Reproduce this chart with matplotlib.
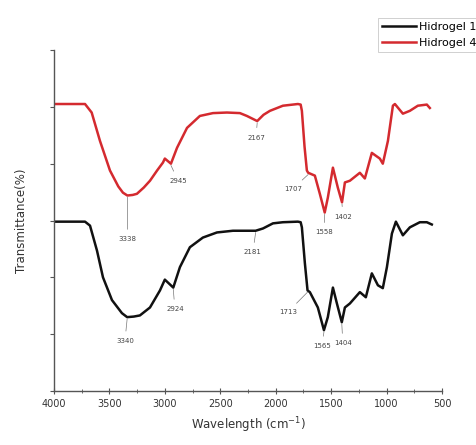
import matplotlib

matplotlib.use("Agg")
import matplotlib.pyplot as plt
from matplotlib.ticker import MultipleLocator

# FTIR spectra, wavenumber (cm-1) vs offset transmittance (arbitrary units)
wn_h4 = [4000, 3720, 3660, 3585, 3495, 3420, 3378, 3338, 3290, 3252, 3190, 3134,
         3070, 3017, 3000, 2945, 2890, 2800, 2684, 2566, 2440, 2323, 2260, 2167,
         2110, 2052, 1935, 1800, 1775, 1764, 1740, 1719, 1707, 1647, 1602, 1558,
         1530, 1484, 1440, 1402, 1376, 1331, 1241, 1196, 1133, 1061, 1034, 988,
         943, 925, 853, 790, 718, 637, 610]
tr_h4 = [5.05, 5.05, 4.90, 4.40, 3.88, 3.60, 3.49, 3.44, 3.45, 3.47, 3.58, 3.70,
         3.88, 4.02, 4.09, 4.00, 4.28, 4.63, 4.84, 4.89, 4.90, 4.89, 4.84, 4.75,
         4.86, 4.93, 5.02, 5.05, 5.04, 4.93, 4.30, 3.88, 3.84, 3.79, 3.47, 3.14,
         3.40, 3.93, 3.58, 3.32, 3.67, 3.70, 3.84, 3.74, 4.19, 4.09, 4.00, 4.40,
         5.02, 5.05, 4.88, 4.93, 5.02, 5.04, 4.98]

wn_h1 = [4000, 3720, 3675, 3612, 3558, 3477, 3387, 3340, 3280, 3225, 3134, 3044,
         3000, 2924, 2864, 2774, 2657, 2530, 2386, 2181, 2115, 2025, 1935, 1800,
         1775, 1764, 1737, 1713, 1692, 1620, 1565, 1530, 1484, 1448, 1404, 1376,
         1331, 1241, 1187, 1133, 1078, 1034, 997, 952, 916, 853, 790, 700, 637, 592]
tr_h1 = [2.98, 2.98, 2.91, 2.47, 2.00, 1.60, 1.37, 1.30, 1.31, 1.33, 1.47, 1.77,
         1.96, 1.82, 2.18, 2.53, 2.70, 2.79, 2.82, 2.82, 2.86, 2.95, 2.97, 2.98,
         2.97, 2.88, 2.25, 1.77, 1.74, 1.47, 1.07, 1.30, 1.82, 1.54, 1.21, 1.47,
         1.54, 1.74, 1.65, 2.07, 1.86, 1.81, 2.18, 2.77, 2.98, 2.74, 2.88, 2.97,
         2.97, 2.93]

# band label: (peak wavenumber, curve value, text x, text y)
peaks_h4 = [(3338, 3.44, 3338, 2.67), (2945, 4.00, 2880, 3.70),
            (2167, 4.75, 2178, 4.46), (1707, 3.84, 1845, 3.56),
            (1558, 3.14, 1565, 2.79), (1402, 3.32, 1394, 3.07)]
peaks_h1 = [(3340, 1.30, 3360, 0.88), (2924, 1.82, 2909, 1.44),
            (2181, 2.82, 2206, 2.44), (1713, 1.77, 1890, 1.39),
            (1565, 1.07, 1583, 0.79), (1404, 1.21, 1394, 0.84)]

RED = "#d42a2f"
GREY = "#555555"

fig = plt.figure(figsize=(4.76, 4.45), dpi=100)
ax = fig.add_axes([0.1134, 0.1213, 0.8152, 0.7663])

ax.plot(wn_h1, tr_h1, color="#111111", lw=1.8, label="Hidrogel 1")
ax.plot(wn_h4, tr_h4, color=RED, lw=1.8, label="Hidrogel 4")

for peaks in (peaks_h4, peaks_h1):
    for wn, tr, tx, ty in peaks:
        ax.annotate(str(wn), xy=(wn, tr - 0.03), xytext=(tx, ty), fontsize=5,
                    color="#444444", ha="center", va="center",
                    arrowprops=dict(arrowstyle="-", lw=0.5, color="#777777",
                                    shrinkA=3, shrinkB=0))

ax.set_xlim(4000, 500)
ax.set_ylim(0, 6)
ax.xaxis.set_major_locator(MultipleLocator(500))
ax.xaxis.set_minor_locator(MultipleLocator(250))
ax.yaxis.set_major_locator(MultipleLocator(1))
ax.set_yticklabels([])

for side in ("top", "right"):
    ax.spines[side].set_visible(False)
for side in ("left", "bottom"):
    ax.spines[side].set_color(GREY)
    ax.spines[side].set_linewidth(1.0)
ax.tick_params(axis="x", which="major", direction="inout", length=5,
               color=GREY, labelsize=7, labelcolor="#333333", pad=3)
ax.tick_params(axis="x", which="minor", direction="inout", length=3, color=GREY)
ax.tick_params(axis="y", direction="out", length=3, color=GREY)

ax.set_xlabel("Wavelength (cm$^{-1}$)", fontsize=8.5, color="#333333", labelpad=5)
ax.set_ylabel("Transmittance(%)", fontsize=8.5, color="#333333", labelpad=12)

leg = ax.legend(loc="upper left", bbox_to_anchor=(0.822, 1.111), fontsize=8,
                handlelength=3.0, handletextpad=0.3, borderpad=0.35,
                labelspacing=0.55, fancybox=False, edgecolor="#bbbbbb")
leg.get_frame().set_linewidth(0.6)

fig.savefig("out.png", dpi=100)
